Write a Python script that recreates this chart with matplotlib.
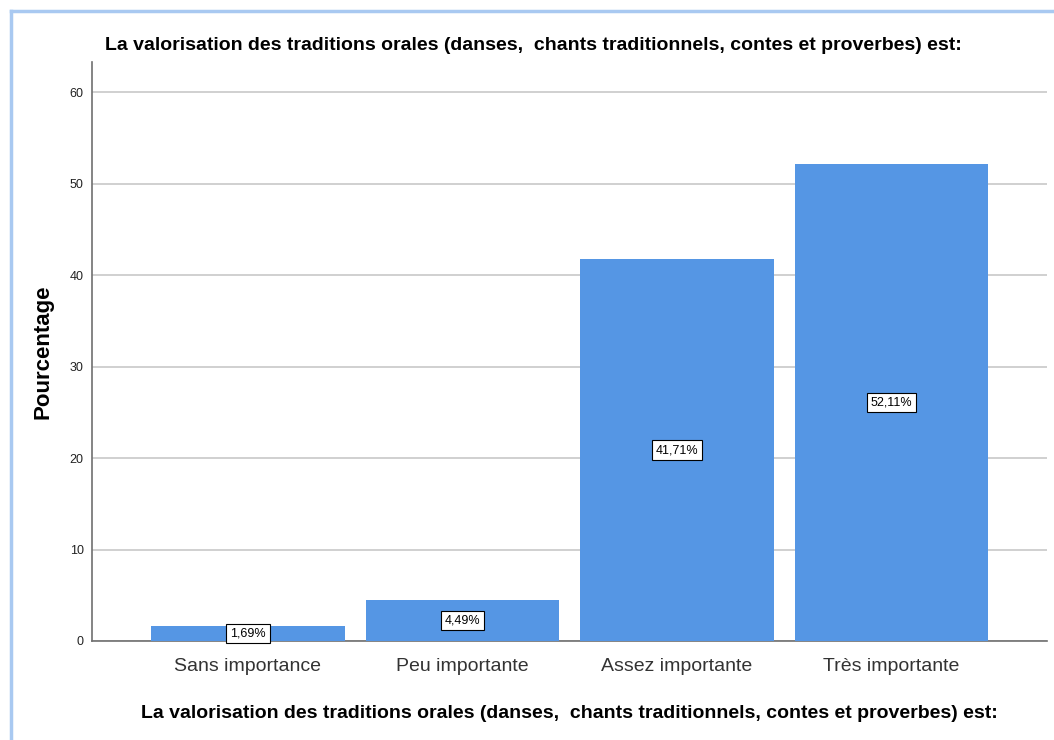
import matplotlib
matplotlib.use("Agg")
import matplotlib.pyplot as plt
from matplotlib.lines import Line2D
import numpy as np

plt.rcParams['font.family'] = ['Liberation Sans', 'DejaVu Sans']

categories = ['Sans importance', 'Peu importante', 'Assez importante', 'Très importante']
values = [1.69, 4.49, 41.71, 52.11]
labels = ['1,69%', '4,49%', '41,71%', '52,11%']
yticks = [0, 10, 20, 30, 40, 50, 60]
title = 'La valorisation des traditions orales (danses,  chants traditionnels, contes et proverbes) est:'

fig = plt.figure(figsize=(10.54, 7.40), dpi=100)
fig.patch.set_facecolor('white')

# light blue frame (left and top edges)
fig.add_artist(Line2D([11/1054, 11/1054], [0, 1 - 11/740], color='#a9c9f1', lw=2.5))
fig.add_artist(Line2D([11/1054, 1], [1 - 11/740, 1 - 11/740], color='#a9c9f1', lw=2.5))

ax = fig.add_axes([0.0873, 0.1338, 0.9061, 0.7824])
x = np.arange(len(categories))
ax.bar(x, values, width=0.9, color='#5596e4', zorder=3)

for xi, v, lab in zip(x, values, labels):
    ax.text(xi, v / 2, lab, ha='center', va='center', fontsize=9, color='black', zorder=4,
            bbox=dict(boxstyle='square,pad=0.3', fc='white', ec='black', lw=0.8))

ax.set_xlim(-0.727, 3.725)
ax.set_ylim(0, 63.3)
ax.set_yticks(yticks)
ax.set_yticklabels([str(t) for t in yticks], fontsize=9, color='#222222')
ax.set_xticks(x)
ax.set_xticklabels(categories, fontsize=14, color='#333333')
ax.tick_params(axis='both', length=0)
ax.tick_params(axis='x', pad=12)
ax.tick_params(axis='y', pad=6)
ax.yaxis.grid(True, color='#c8c8c8', lw=1.2, zorder=0)
ax.set_axisbelow(True)

for s in ['top', 'right']:
    ax.spines[s].set_visible(False)
for s in ['left', 'bottom']:
    ax.spines[s].set_color('#707070')
    ax.spines[s].set_linewidth(1.2)

ax.set_ylabel('Pourcentage', fontsize=16, fontweight='bold', labelpad=12)
ax.set_xlabel(title, fontsize=14, fontweight='bold', labelpad=22)
fig.text(0.506, 1 - 46/740, title, ha='center', va='center', fontsize=14, fontweight='bold')

fig.savefig('out.png', dpi=100)
